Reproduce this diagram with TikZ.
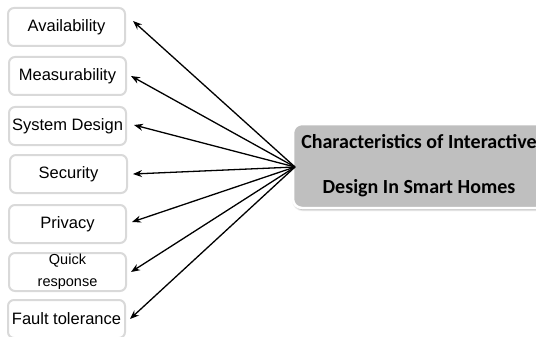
\documentclass[tikz,border=0pt]{standalone}
\usepackage{fontspec}
\setmainfont{Liberation Sans}
\newfontfamily\calib{Carlito}
\usetikzlibrary{arrows.meta,shadows.blur}
\begin{document}
\begin{tikzpicture}[x=1pt,y=-1pt,
  item/.style={draw=black!15, line width=2pt, rounded corners=6pt, fill=white,
    minimum width=117pt, minimum height=38pt, inner sep=0pt, align=center,
    font=\fontsize{16.5}{18}\selectfont},
  conn/.style={line width=1.3pt, -{Stealth[length=9pt,width=7pt]}},
  mainbox/.style={fill=black!25, draw=white, line width=2.5pt, rounded corners=9pt,
    minimum width=252pt, minimum height=84pt, inner sep=0pt, align=center,
    font=\calib\bfseries\fontsize{20}{45}\selectfont,
    blur shadow={shadow xshift=1pt, shadow yshift=-1.5pt, shadow opacity=45, shadow blur steps=6}}]
\useasboundingbox (0,0) rectangle (536,337);
\clip (0,0) rectangle (536,337);
\node[mainbox] (c) at (419,166) {Characteristics of Interactive\\Design In Smart Homes};
\node[item] (a1) at (66.5,27) {Availability};
\node[item] (a2) at (67.5,76) {Measurability};
\node[item] (a3) at (67.5,126) {System Design};
\node[item] (a4) at (68.5,174) {Security};
\node[item] (a5) at (67.5,224) {Privacy};
\node[item, font=\fontsize{14.5}{22}\selectfont] (a6) at (67.5,272) {Quick\\response};
\node[item] (a7) at (66.5,319) {Fault tolerance};
\coordinate (hub) at (295,167);
\draw[conn] (hub) -- ([xshift=7pt,yshift=6pt]a1.east);
\draw[conn] (hub) -- ([xshift=4pt]a2.east);
\draw[conn] (hub) -- ([xshift=7pt,yshift=1pt]a3.east);
\draw[conn] (hub) -- ([xshift=5pt]a4.east);
\draw[conn] (hub) -- ([xshift=5pt,yshift=2pt]a5.east);
\draw[conn] (hub) -- ([xshift=4pt]a6.east);
\draw[conn] (hub) -- ([xshift=4pt]a7.east);
\end{tikzpicture}
\end{document}
